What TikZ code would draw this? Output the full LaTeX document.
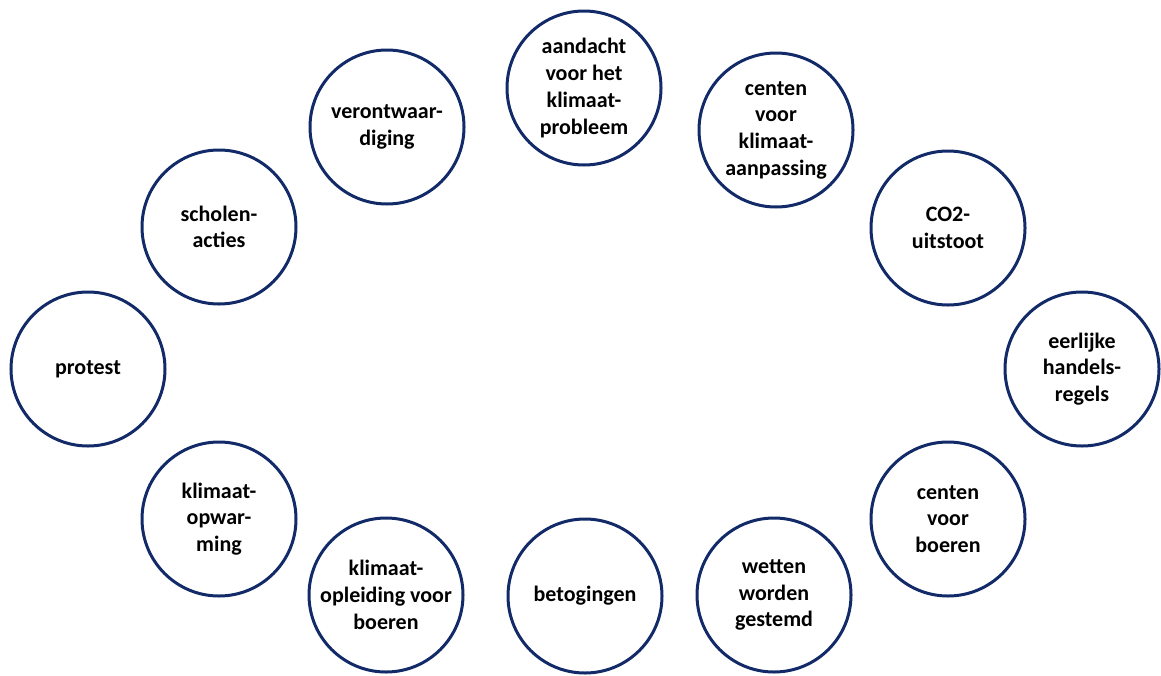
\documentclass[tikz,border=0pt]{standalone}
\usepackage{fontspec}
\setmainfont{Carlito}
\definecolor{ringblue}{RGB}{18,42,104}
\tikzset{
  ring/.style={circle, draw=ringblue, line width=3pt, minimum size=154pt, inner sep=0pt,
    align=center, font=\bfseries\fontsize{22}{26.7}\selectfont, text=black}
}
\begin{document}
\begin{tikzpicture}[x=1pt,y=-1pt]
\useasboundingbox (0,0) rectangle (1161,675);
\node[ring] (a) at (584,88) {aandacht\\voor het\\klimaat-\\probleem};
\node[ring] (b) at (776,130) {centen\\voor\\klimaat-\\aanpassing};
\node[ring] (c) at (948,228) {CO2-\\uitstoot};
\node[ring] (d) at (1082,369) {eerlijke\\handels-\\regels};
\node[ring] (e) at (948,519) {centen\\voor\\boeren};
\node[ring] (f) at (774,595) {wetten\\worden\\gestemd};
\node[ring] (g) at (585,596) {betogingen};
\node[ring] (h) at (386,595) {klimaat-\\opleiding voor\\boeren};
\node[ring] (i) at (219,519) {klimaat-\\opwar-\\ming};
\node[ring] (j) at (88,369) {protest};
\node[ring] (k) at (219,227) {scholen-\\acties};
\node[ring] (l) at (387,127) {verontwaar-\\diging};
\end{tikzpicture}
\end{document}
